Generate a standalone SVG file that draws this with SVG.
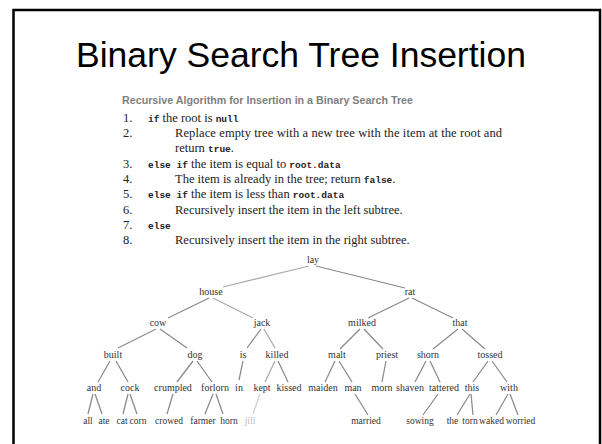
<svg xmlns="http://www.w3.org/2000/svg" width="602" height="444" viewBox="0 0 602 444">
<style>
.title{font-family:"Liberation Sans",Arial,sans-serif;font-size:35.5px;fill:#000;text-anchor:middle}
.hdr{font-family:"Liberation Sans",Arial,sans-serif;font-size:10px;font-weight:bold;fill:#808080}
.alg{font-family:"Liberation Serif","Times New Roman",serif;font-size:12.5px;fill:#222}
.code{font-family:"Liberation Mono","Courier New",monospace;font-size:9.5px;font-weight:bold;fill:#222}
.nd{font-family:"Liberation Serif","Times New Roman",serif;font-size:10px;fill:#333;text-anchor:middle}
.lf{font-size:9.5px}
.faint{fill:#bbb}
#edges line{stroke:#8a8a8a;stroke-width:1.25}
#edges line.lt{stroke:#a8a8a8}
#edges line.vlt{stroke:#cfcfcf}
</style>
<rect x="13.5" y="10" width="586.5" height="450" fill="#fff" stroke="#000" stroke-width="2.5"/>
<text class="title" x="301" y="67">Binary Search Tree Insertion</text>
<g id="algorithm">
<text class="hdr" x="122" y="104" textLength="291" lengthAdjust="spacingAndGlyphs">Recursive Algorithm for Insertion in a Binary Search Tree</text>
<text class="alg" x="123" y="122">1.</text>
<text class="alg" x="148" y="122"><tspan class="code">if</tspan> the root is <tspan class="code">null</tspan></text>
<text class="alg" x="123" y="137">2.</text>
<text class="alg" x="175" y="137" textLength="327" lengthAdjust="spacing">Replace empty tree with a new tree with the item at the root and</text>
<text class="alg" x="175" y="152">return <tspan class="code">true</tspan>.</text>
<text class="alg" x="123" y="168">3.</text>
<text class="alg" x="148" y="168"><tspan class="code">else if</tspan> the item is equal to <tspan class="code">root.data</tspan></text>
<text class="alg" x="123" y="183">4.</text>
<text class="alg" x="175" y="183">The item is already in the tree; return <tspan class="code">false</tspan>.</text>
<text class="alg" x="123" y="198">5.</text>
<text class="alg" x="148" y="198"><tspan class="code">else if</tspan> the item is less than <tspan class="code">root.data</tspan></text>
<text class="alg" x="123" y="214">6.</text>
<text class="alg" x="175" y="214">Recursively insert the item in the left subtree.</text>
<text class="alg" x="123" y="229">7.</text>
<text class="alg" x="148" y="229"><tspan class="code">else</tspan></text>
<text class="alg" x="123" y="244">8.</text>
<text class="alg" x="175" y="244">Recursively insert the item in the right subtree.</text>
</g>
<g id="edges">
<line class="lt" x1="309" y1="266" x2="223" y2="287"/>
<line x1="316" y1="266" x2="405" y2="288"/>
<line x1="209" y1="298" x2="168" y2="318"/>
<line class="lt" x1="213" y1="298" x2="253" y2="318"/>
<line x1="409" y1="298" x2="368" y2="318"/>
<line x1="412" y1="298" x2="453" y2="318"/>
<line x1="156" y1="329" x2="118" y2="348"/>
<line x1="160" y1="329" x2="187" y2="348"/>
<line x1="261" y1="329" x2="247" y2="348"/>
<line class="lt" x1="264" y1="329" x2="275" y2="348"/>
<line x1="360" y1="329" x2="340" y2="349"/>
<line x1="364" y1="329" x2="383" y2="349"/>
<line x1="458" y1="329" x2="433" y2="349"/>
<line x1="462" y1="329" x2="485" y2="349"/>
<line x1="110" y1="361" x2="98" y2="382"/>
<line x1="116" y1="361" x2="128" y2="382"/>
<line x1="193" y1="361" x2="177" y2="382"/>
<line x1="197" y1="361" x2="212" y2="382"/>
<line x1="243" y1="361" x2="239" y2="380"/>
<line class="lt" x1="275" y1="361" x2="265" y2="382"/>
<line x1="278" y1="361" x2="288" y2="382"/>
<line x1="335" y1="361" x2="325" y2="382"/>
<line x1="339" y1="361" x2="352" y2="382"/>
<line x1="386" y1="361" x2="382" y2="382"/>
<line x1="426" y1="361" x2="415" y2="382"/>
<line x1="430" y1="361" x2="440" y2="382"/>
<line x1="488" y1="361" x2="473" y2="382"/>
<line x1="492" y1="361" x2="507" y2="382"/>
<line x1="93" y1="394" x2="88" y2="414"/>
<line x1="95" y1="394" x2="102" y2="414"/>
<line x1="128" y1="394" x2="123" y2="414"/>
<line x1="130" y1="394" x2="137" y2="414"/>
<line x1="173" y1="394" x2="167" y2="414"/>
<line x1="213" y1="394" x2="205" y2="414"/>
<line x1="216" y1="394" x2="223" y2="414"/>
<line class="vlt" x1="260" y1="394" x2="253" y2="414"/>
<line x1="355" y1="394" x2="368" y2="415"/>
<line x1="438" y1="394" x2="423" y2="415"/>
<line x1="470" y1="394" x2="457" y2="415"/>
<line x1="471" y1="394" x2="473" y2="415"/>
<line x1="508" y1="394" x2="496" y2="415"/>
<line x1="510" y1="394" x2="518" y2="415"/>
</g>
<g id="n-lay"><text class="nd" x="313" y="263">lay</text></g>
<g id="n-house"><text class="nd" x="211" y="295">house</text></g>
<g id="n-rat"><text class="nd" x="410" y="295">rat</text></g>
<g id="n-cow"><text class="nd" x="158" y="326">cow</text></g>
<g id="n-jack"><text class="nd" x="262" y="326">jack</text></g>
<g id="n-milked"><text class="nd" x="362" y="326">milked</text></g>
<g id="n-that"><text class="nd" x="460" y="326">that</text></g>
<g id="n-built"><text class="nd" x="113" y="358">built</text></g>
<g id="n-dog"><text class="nd" x="195" y="358">dog</text></g>
<g id="n-is"><text class="nd" x="243" y="358">is</text></g>
<g id="n-killed"><text class="nd" x="277" y="358">killed</text></g>
<g id="n-malt"><text class="nd" x="337" y="358">malt</text></g>
<g id="n-priest"><text class="nd" x="387" y="358">priest</text></g>
<g id="n-shorn"><text class="nd" x="428" y="358">shorn</text></g>
<g id="n-tossed"><text class="nd" x="490" y="358">tossed</text></g>
<g id="n-and"><text class="nd" x="94" y="391">and</text></g>
<g id="n-cock"><text class="nd" x="130" y="391">cock</text></g>
<g id="n-crumpled"><text class="nd" x="173" y="391">crumpled</text></g>
<g id="n-forlorn"><text class="nd" x="215" y="391">forlorn</text></g>
<g id="n-in"><text class="nd" x="239" y="391">in</text></g>
<g id="n-kept"><text class="nd" x="262" y="391">kept</text></g>
<g id="n-kissed"><text class="nd" x="289" y="391">kissed</text></g>
<g id="n-maiden"><text class="nd" x="323" y="391">maiden</text></g>
<g id="n-man"><text class="nd" x="353" y="391">man</text></g>
<g id="n-morn"><text class="nd" x="382" y="391">morn</text></g>
<g id="n-shaven"><text class="nd" x="410" y="391">shaven</text></g>
<g id="n-tattered"><text class="nd" x="444" y="391">tattered</text></g>
<g id="n-this"><text class="nd" x="472" y="391">this</text></g>
<g id="n-with"><text class="nd" x="509" y="391">with</text></g>
<g id="n-all"><text class="nd lf" x="88" y="424">all</text></g>
<g id="n-ate"><text class="nd lf" x="104" y="424">ate</text></g>
<g id="n-cat"><text class="nd lf" x="122" y="424">cat</text></g>
<g id="n-corn"><text class="nd lf" x="138" y="424">corn</text></g>
<g id="n-crowed"><text class="nd lf" x="169" y="424">crowed</text></g>
<g id="n-farmer"><text class="nd lf" x="203" y="424">farmer</text></g>
<g id="n-horn"><text class="nd lf" x="229" y="424">horn</text></g>
<g id="n-jill"><text class="nd lf faint" x="250" y="424">jill</text></g>
<g id="n-married"><text class="nd lf" x="366" y="424">married</text></g>
<g id="n-sowing"><text class="nd lf" x="420" y="424">sowing</text></g>
<g id="n-the"><text class="nd lf" x="452.5" y="424">the</text></g>
<g id="n-torn"><text class="nd lf" x="470" y="424">torn</text></g>
<g id="n-waked"><text class="nd lf" x="491.5" y="424">waked</text></g>
<g id="n-worried"><text class="nd lf" x="520.5" y="424">worried</text></g>
</svg>
